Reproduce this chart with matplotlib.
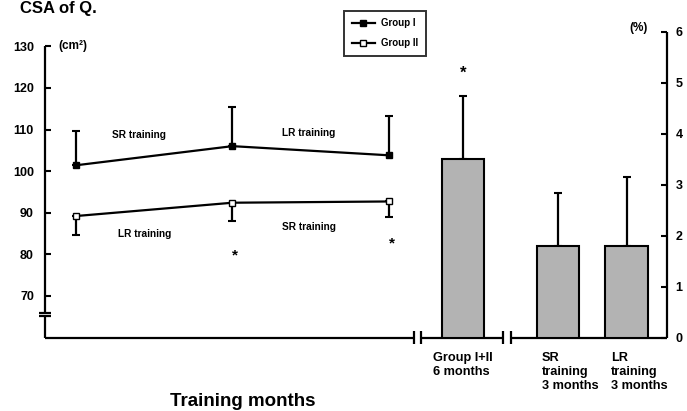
import numpy as np
import matplotlib
matplotlib.use("Agg")
import matplotlib.pyplot as plt
import matplotlib.transforms as mtransforms
from matplotlib.lines import Line2D

plt.rcParams['font.family'] = ['Liberation Sans', 'DejaVu Sans']
plt.rcParams['font.weight'] = 'bold'

# line chart (left axis, cm2)
months = [0, 3, 6]
group1 = [101.4, 106.0, 103.8]
group1_err = [8.2, 9.3, 9.4]
group2 = [89.2, 92.4, 92.7]
group2_err = [4.5, 4.3, 3.8]
star_months = [3, 6]
star_vals = [79.8, 82.7]

# bar chart (right axis, %)
bar_labels = ["Group I+II\n6 months", "SR\ntraining\n3 months", "LR\ntraining\n3 months"]
bar_pos = [7.42, 9.24, 10.56]
bar_vals = [3.51, 1.80, 1.80]
bar_err = [1.23, 1.04, 1.35]

black = 'black'

fig = plt.figure(figsize=(6.87, 4.11), dpi=100)
ax = fig.add_axes([45 / 687, 73.5 / 411, 622 / 687, 305.5 / 411])
ax2 = ax.twinx()

ax.set_xlim(-0.594, 11.33)
ax.set_ylim(60, 133.44)
ax2.set_ylim(0, 6.0)

for a in (ax, ax2):
    for s in a.spines.values():
        s.set_visible(False)
    a.patch.set_visible(False)

# lines with one-sided error bars
ax.errorbar(months, group1, yerr=[[0, 0, 0], group1_err], color=black, lw=1.6,
            marker='s', ms=4, mfc=black, mec=black, capsize=3, capthick=1.5,
            elinewidth=1.6, zorder=3)
ax.errorbar(months, group2, yerr=[group2_err, [0, 0, 0]], color=black, lw=1.6,
            marker='s', ms=4, mfc='white', mec=black, capsize=3, capthick=1.5,
            elinewidth=1.6, zorder=3)
for xm, ym in zip(star_months, star_vals):
    ax.text(xm + 0.05, ym, '*', ha='center', va='center', fontsize=11)

ax.text(1.21, 108.6, 'SR training', ha='center', va='center', fontsize=7.3)
ax.text(4.47, 109.2, 'LR training', ha='center', va='center', fontsize=7.3)
ax.text(1.32, 84.8, 'LR training', ha='center', va='center', fontsize=7.3)
ax.text(4.47, 86.5, 'SR training', ha='center', va='center', fontsize=7.3)

# bars
ax2.bar(bar_pos, bar_vals, width=0.82, color='#b3b3b3', edgecolor=black, lw=1.5, zorder=2)
ax2.errorbar(bar_pos, bar_vals, yerr=[[0, 0, 0], bar_err], fmt='none', ecolor=black,
             elinewidth=1.6, capsize=3, capthick=1.5, zorder=1)
ax2.text(bar_pos[0], bar_vals[0] + bar_err[0] + 0.45, '*', ha='center', va='center', fontsize=12)

# axes lines with breaks
bx = mtransforms.blended_transform_factory(ax.transData, ax.transAxes)
lkw = dict(color=black, lw=1.6, clip_on=False, solid_capstyle='butt')
x0, x1 = ax.get_xlim()
for xa, xb in [(x0, 6.48), (6.61, 8.18), (8.34, x1)]:
    ax.plot([xa, xb], [0, 0], transform=bx, **lkw)
for xv in [6.48, 6.61, 8.18, 8.34]:
    ax.plot([xv, xv], [-0.02, 0.02], transform=bx, **lkw)
ax.plot([1, 1], [0, 1], transform=ax.transAxes, **lkw)
by = mtransforms.blended_transform_factory(ax.transAxes, ax.transData)
ax.plot([0, 0], [60, 65.2], transform=by, **lkw)
ax.plot([0, 0], [66.0, 130], transform=by, **lkw)
for yv in [65.2, 66.0]:
    ax.plot([-0.009, 0.009], [yv, yv], transform=by, **lkw)

# ticks
ax.set_yticks([70, 80, 90, 100, 110, 120, 130])
ax.set_xticks(months)
ax.tick_params(axis='y', direction='in', length=4, width=1.5, labelsize=9, pad=8)
ax.tick_params(axis='x', direction='in', length=3, width=1.5, labelsize=9, pad=10)
ax2.set_yticks(range(0, 7))
ax2.tick_params(axis='y', direction='in', length=4, width=1.5, labelsize=9, pad=6)
ax2.set_xticks([])

# category labels under bars
label_x = [6.84, 8.93, 10.25]
for xp, lab in zip(label_x, bar_labels):
    ax2.text(xp, -0.047, lab, transform=bx, ha='left', va='top',
             fontsize=9.2, linespacing=1.25)

ax.text(-0.345, 130, '(cm²)', ha='left', va='center', fontsize=8.5)
ax2.text(10.96, 6.07, '(%)', ha='right', va='center', fontsize=8.5)

handles = [Line2D([], [], color=black, lw=1.6, marker='s', ms=4, mfc=black, mec=black),
           Line2D([], [], color=black, lw=1.6, marker='s', ms=4, mfc='white', mec=black)]
leg = ax.legend(handles, ['Group I', 'Group II'], loc='upper left',
                bbox_to_anchor=(344 / 687, 1 - 10.7 / 411),
                bbox_transform=fig.transFigure, fontsize=7, frameon=True,
                fancybox=False, edgecolor=black, handlelength=2.4, borderpad=0.8,
                labelspacing=1.0, handletextpad=0.6, borderaxespad=0)
leg.get_frame().set_linewidth(1.4)

fig.text(243 / 687, 1 - 401 / 411, 'Training months', ha='center', va='center', fontsize=13.5)
fig.text(20 / 687, 1 - 1 / 411, 'CSA of Q.', ha='left', va='top', fontsize=12)

fig.savefig('out.png', dpi=100)
